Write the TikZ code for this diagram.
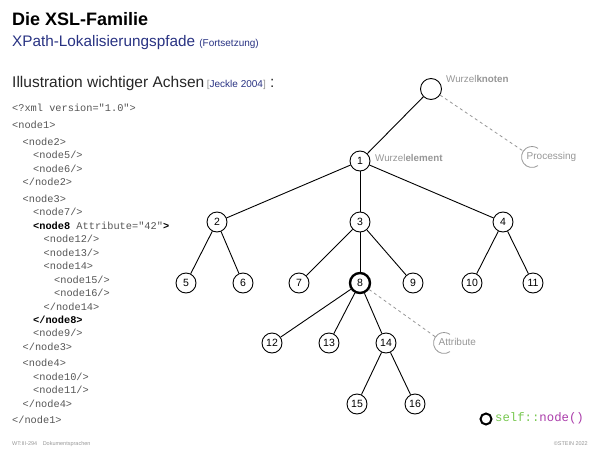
\documentclass[tikz,border=0pt]{standalone}
\usepackage{fontspec}
\setmainfont{Liberation Sans}
\setsansfont{Liberation Sans}
\setmonofont{Liberation Mono}
\definecolor{titleblue}{RGB}{40,50,130}
\definecolor{codegray}{RGB}{85,85,85}
\definecolor{lightgray}{RGB}{150,150,150}
\definecolor{selfgreen}{RGB}{120,200,80}
\definecolor{nodepurple}{RGB}{170,60,170}
\tikzset{
  tn/.style={circle,draw,minimum size=20pt,inner sep=0pt,line width=0.9pt,font=\fontsize{10.5}{12}\selectfont},
  edge/.style={line width=0.9pt},
  code/.style={anchor=mid west,inner sep=0pt,text=codegray,font=\fontsize{10.3}{12}\ttfamily},
  bcode/.style={code,text=black,font=\fontsize{10.3}{12}\ttfamily\bfseries},
  glabel/.style={anchor=mid west,inner sep=0pt,text=lightgray,font=\fontsize{9.8}{12}\selectfont},
  ghost/.style={circle,minimum size=21pt,inner sep=0pt},
  garc/.style={lightgray,line width=0.8pt},
  gdash/.style={lightgray,dashed,line width=0.8pt},
  foot/.style={inner sep=0pt,text=lightgray,font=\fontsize{5.5}{7}\selectfont}
}
\begin{document}
\begin{tikzpicture}[x=1pt,y=-1pt]
\useasboundingbox (0,0) rectangle (600,450);
% Titles
\node[anchor=base west,inner sep=0pt,font=\fontsize{18}{20}\selectfont\bfseries] (title) at (12,25) {Die XSL-Familie};
\node[anchor=base west,inner sep=0pt,text=titleblue,font=\fontsize{15.3}{18}\selectfont] (sub) at (12,46.5) {XPath-Lokalisierungspfade \fontsize{10}{12}\selectfont(Fortsetzung)};
\node[anchor=base west,inner sep=0pt,text=black!85,font=\fontsize{15.5}{18}\selectfont] (ill) at (12,87) {Illustration wichtiger Achsen\,{\fontsize{10}{12}\selectfont\textcolor{lightgray}{[}\textcolor{titleblue}{Jeckle 2004}\textcolor{lightgray}{]}} :};
% code
\node[code] (c1) at (12,108.5) {<?xml version="1.0">};
\node[code] (c2) at (12,125.5) {<node1>};
\node[code] (c3) at (22.5,142.5) {<node2>};
\node[code] (c4) at (33,156) {<node5/>};
\node[code] (c5) at (33,169.5) {<node6/>};
\node[code] (c6) at (22.5,183) {</node2>};
\node[code] (c7) at (22.5,199.5) {<node3>};
\node[code] (c8) at (33,213) {<node7/>};
\node[code] (c9) at (33,226.5) {\textbf{\textcolor{black}{<node8}} Attribute="42"\textbf{\textcolor{black}{>}}};
\node[code] (c10) at (43.5,240) {<node12/>};
\node[code] (c11) at (43.5,253.5) {<node13/>};
\node[code] (c12) at (43.5,267) {<node14>};
\node[code] (c13) at (54,280.5) {<node15/>};
\node[code] (c14) at (54,294) {<node16/>};
\node[code] (c15) at (43.5,307.5) {</node14>};
\node[bcode] (c16) at (33,321) {</node8>};
\node[code] (c17) at (33,334) {<node9/>};
\node[code] (c18) at (22.5,347.5) {</node3>};
\node[code] (c19) at (22.5,364) {<node4>};
\node[code] (c20) at (33,377.5) {<node10/>};
\node[code] (c21) at (33,391) {<node11/>};
\node[code] (c22) at (22.5,404.5) {</node4>};
\node[code] (c23) at (12,421) {</node1>};
% tree
\node[tn,minimum size=21pt] (root) at (431,89) {};
\node[tn] (n1) at (360,161) {1};
\node[tn] (n2) at (217,222) {2};
\node[tn] (n3) at (360,222) {3};
\node[tn] (n4) at (503,222) {4};
\node[tn] (n5) at (186,283) {5};
\node[tn] (n6) at (243,283) {6};
\node[tn] (n7) at (299,283) {7};
\node[tn,line width=2.4pt] (n8) at (360,283) {8};
\node[tn] (n9) at (413,283) {9};
\node[tn] (n10) at (472,283) {10};
\node[tn] (n11) at (533,283) {11};
\node[tn] (n12) at (272,343) {12};
\node[tn] (n13) at (329,343) {13};
\node[tn] (n14) at (386,343) {14};
\node[tn] (n15) at (357,404) {15};
\node[tn] (n16) at (415,404) {16};
\draw[edge] (root) -- (n1);
\draw[edge] (n1) -- (n2);
\draw[edge] (n1) -- (n3);
\draw[edge] (n1) -- (n4);
\draw[edge] (n2) -- (n5);
\draw[edge] (n2) -- (n6);
\draw[edge] (n3) -- (n7);
\draw[edge] (n3) -- (n8);
\draw[edge] (n3) -- (n9);
\draw[edge] (n4) -- (n10);
\draw[edge] (n4) -- (n11);
\draw[edge] (n8) -- (n12);
\draw[edge] (n8) -- (n13);
\draw[edge] (n8) -- (n14);
\draw[edge] (n14) -- (n15);
\draw[edge] (n14) -- (n16);
% labels
\node[glabel] (lroot) at (446,80) {Wurzel\textbf{knoten}};
\node[glabel] (ln1) at (375,159) {Wurzel\textbf{element}};
% processing
\node[ghost] (proc) at (532,157) {};
\draw[garc] ([shift={(55:10.5)}]proc.center) arc[start angle=55,end angle=305,radius=10.5];
\node[glabel,font=\fontsize{10}{12}\selectfont] (ptext) at (526.5,157) {Processing};
\draw[gdash] (root) -- (proc);
% attribute
\node[ghost] (attr) at (444,343) {};
\draw[garc] ([shift={(55:10.5)}]attr.center) arc[start angle=55,end angle=305,radius=10.5];
\node[glabel,font=\fontsize{10}{12}\selectfont] (atext) at (438.5,343) {Attribute};
\draw[gdash] (n8) -- (attr);
% legend
\node[circle,draw,line width=2pt,minimum size=11pt,inner sep=0pt] (leg) at (486,419) {};
\node[anchor=mid west,inner sep=0pt,font=\fontsize{12.3}{14}\ttfamily] (legt) at (495,419) {\textcolor{selfgreen}{self::}\textcolor{nodepurple}{node()}};
% footer
\node[foot,anchor=base west] (f1) at (12,445) {WT:III-294\quad Dokumentsprachen};
\node[foot,anchor=base east] (f2) at (588,445) {©STEIN 2022};
\end{tikzpicture}
\end{document}
